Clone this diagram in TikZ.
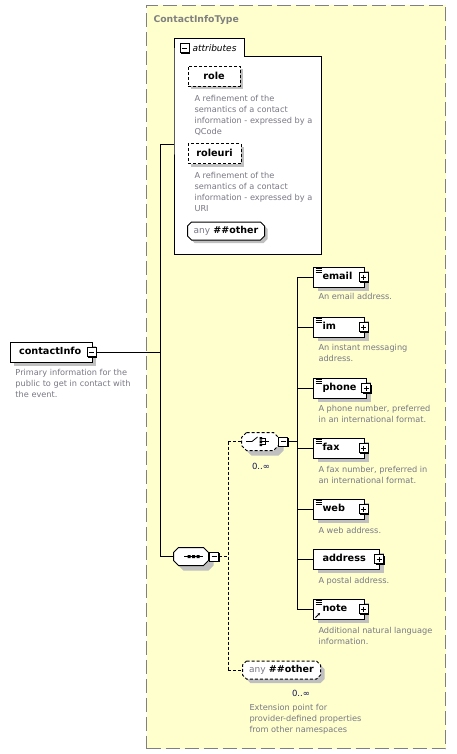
\documentclass[tikz,border=0pt]{standalone}
\usepackage{fontspec}
\setmainfont{DejaVu Sans}
\usetikzlibrary{shadows,arrows.meta}
\definecolor{bgyellow}{RGB}{255,255,206}
\definecolor{shadowgray}{RGB}{192,192,192}
\definecolor{desccol}{RGB}{120,120,132}
\definecolor{framecol}{RGB}{128,128,128}
\definecolor{occcol}{RGB}{20,20,90}
\newcommand{\xsdoct}[3][]{\path[#1] ([xshift=#3]#2.north west) -- ([xshift=-#3]#2.north east) -- ([yshift=-#3]#2.north east) -- ([yshift=#3]#2.south east) -- ([xshift=-#3]#2.south east) -- ([xshift=#3]#2.south west) -- ([yshift=#3]#2.south west) -- ([yshift=-#3]#2.north west) -- cycle;}
\begin{document}
\begin{tikzpicture}[x=1pt,y=-1pt,line width=1pt,
 desc/.style={anchor=north west, align=left, inner sep=0pt, text=desccol, font=\fontsize{8.2}{11}\selectfont},
 namefont/.style={font=\fontsize{9.7}{11}\selectfont\bfseries},
 elem/.style={namefont, draw, fill=white, anchor=west, minimum height=20, inner sep=0pt, align=left, text height=7.2pt, text depth=2pt, general shadow={fill=shadowgray, shadow xshift=4pt, shadow yshift=-4pt}},
 attrbox/.style={namefont, draw, dash pattern=on 3pt off 2pt, fill=white, minimum height=20, inner sep=0pt, text height=7.2pt, text depth=2pt, general shadow={fill=shadowgray, shadow xshift=3pt, shadow yshift=-3pt}},
 signbox/.style={draw, fill=white, minimum width=9, minimum height=9, inner sep=0pt, general shadow={fill=black, shadow xshift=1pt, shadow yshift=-1pt}},
 minusbox/.style={signbox, path picture={\draw[line width=1pt] ([xshift=2pt]path picture bounding box.west) -- ([xshift=-2pt]path picture bounding box.east);}},
 plusbox/.style={signbox, path picture={\draw[line width=1pt] ([xshift=2pt]path picture bounding box.west) -- ([xshift=-2pt]path picture bounding box.east); \draw[line width=1pt] ([yshift=-2pt]path picture bounding box.north) -- ([yshift=2pt]path picture bounding box.south);}},
 icon/.style={path picture={\foreach \d in {1.5,3.5,5.5}{\draw[line width=0.7pt] ([xshift=2pt,yshift=-\d pt]path picture bounding box.north west) -- ++(6,0);}}},
 octbox/.style={minimum height=17, inner sep=0pt},
 dashline/.style={dash pattern=on 3pt off 2pt},
 occ/.style={inner sep=0pt, text=occcol, font=\fontsize{8.5}{10}\selectfont},
 anytext/.style={inner sep=0pt}
]
\useasboundingbox (0,0) rectangle (456,754);

% container
\node[draw=framecol, fill=bgyellow, dash pattern=on 14pt off 5pt, minimum width=299, minimum height=743, anchor=north west, inner sep=0pt] (ctype) at (146,5) {};
\node[anchor=base west, inner sep=0pt, text=framecol, font=\fontsize{9.3}{11}\selectfont\bfseries] (ctlbl) at (153,23) {ContactInfoType};

% attributes group
\path node[minimum width=146, minimum height=196, anchor=north west, inner sep=0pt] (attr) at (174,57) {};
\path node[minimum width=69, minimum height=17, anchor=south west, inner sep=0pt] (attrtab) at (174,57) {};
\draw[fill=white] (attrtab.south west) |- (attrtab.north east) |- (attr.north east) |- (attr.south west) -- cycle;
\node[minusbox] (attrm) at (184.5,48.5) {};
\node[anchor=west, inner sep=0pt, font=\fontsize{9}{11}\selectfont\itshape] (attrlbl) at (192,48.5) {attributes};

\node[attrbox, minimum width=52] (role) at (214,76.5) {role};
\node[desc] (roled) at (194,95) {A refinement of the\\semantics of a contact\\information - expressed by a\\QCode};
\node[attrbox, minimum width=53] (roleuri) at (214.5,154) {roleuri};
\node[desc] (roleurid) at (194,172) {A refinement of the\\semantics of a contact\\information - expressed by a\\URI};

\path node[octbox, minimum width=76] (anyA) at (226,231) {};
\xsdoct[draw, fill=white, general shadow={fill=shadowgray, shadow xshift=3pt, shadow yshift=-3pt}]{anyA}{4pt}
\node[anytext] (anyAt) at (anyA.center) {{\fontsize{9}{11}\selectfont\color{desccol}any} {\fontsize{9.5}{11}\selectfont\bfseries\#\#other}};

% contactInfo
\node[elem, minimum width=82, text width=64, anchor=center] (ci) at (51,352) {contactInfo};
\node[minusbox] (cim) at (91.5,352) {};
\node[desc] (cid) at (15,369) {Primary information for the\\public to get in contact with\\the event.};

% sequence
\path node[octbox, minimum width=34] (seq) at (191,556.5) {};
\xsdoct[draw, fill=white, general shadow={fill=shadowgray, shadow xshift=5pt, shadow yshift=-5pt}]{seq}{5pt}
\draw[line width=0.8pt] (184,556.5) -- (203,556.5);
\fill (187.5,555) rectangle (190.5,558) (192,555) rectangle (195,558) (196.5,555) rectangle (199.5,558);
\node[minusbox] (seqm) at (214,556.5) {};

% choice
\path node[octbox, minimum width=36] (choice) at (260,441.5) {};
\xsdoct[draw, fill=white, dashline, general shadow={fill=shadowgray, shadow xshift=5pt, shadow yshift=-5pt}]{choice}{5pt}
\draw[line width=0.8pt] (246,441.5) -- (252,441.5) -- (257.5,437);
\fill (259.5,437) rectangle (262,439.5) (259.5,440.3) rectangle (262,442.8) (259.5,443.6) rectangle (262,446.1);
\draw[line width=0.8pt] (262,438.2) -| (265,444.8) -- (262,444.8);
\draw[line width=0.8pt] (262,441.5) -- (269,441.5);
\node[minusbox] (chm) at (283,441.5) {};
\node[occ] (chocc) at (261,466) {0..∞};

% elements
\node[elem, minimum width=51, text width=33, icon] (email) at (313,277) {email};
\node[plusbox] (emailp) at ([xshift=-1.5pt]email.east) {};
\node[desc] (emaild) at (318,293) {An email address.};

\node[elem, minimum width=51, text width=33, icon] (im) at (313,327) {im};
\node[plusbox] (imp) at ([xshift=-1.5pt]im.east) {};
\node[desc] (imd) at (318,344) {An instant messaging\\address.};

\node[elem, minimum width=53, text width=35, icon] (phone) at (313,388) {phone};
\node[plusbox] (phonep) at ([xshift=-1pt]phone.east) {};
\node[desc] (phoned) at (318,405) {A phone number, preferred\\in an international format.};

\node[elem, minimum width=51, text width=33, icon] (fax) at (313,448) {fax};
\node[plusbox] (faxp) at ([xshift=-1.5pt]fax.east) {};
\node[desc] (faxd) at (318,466) {A fax number, preferred in\\an international format.};

\node[elem, minimum width=51, text width=33, icon] (web) at (313,509) {web};
\node[plusbox] (webp) at ([xshift=-1.5pt]web.east) {};
\node[desc] (webd) at (318,527) {A web address.};

\node[elem, minimum width=66, text width=48] (address) at (313,559) {address};
\node[plusbox] (addressp) at ([xshift=-1pt]address.east) {};
\node[desc] (addressd) at (318,577) {A postal address.};

\node[elem, minimum width=51, text width=33, icon] (note) at (313,609) {note};
\node[plusbox] (notep) at ([xshift=-1.5pt]note.east) {};
\draw[line width=0.8pt, -{Stealth[length=2.5pt,width=2.5pt]}] ([xshift=2.5pt,yshift=2pt]note.south west) -- ++(4.5,-4.5);
\node[desc] (noted) at (318,627) {Additional natural language\\information.};

% any (extension)
\path node[octbox, minimum width=77] (anyB) at (281.5,670) {};
\xsdoct[draw, fill=white, dashline, general shadow={fill=shadowgray, shadow xshift=4pt, shadow yshift=-4pt}]{anyB}{4pt}
\node[anytext] (anyBt) at (anyB.center) {{\fontsize{9}{11}\selectfont\color{desccol}any} {\fontsize{9.5}{11}\selectfont\bfseries\#\#other}};
\node[occ] (anyocc) at (301,693) {0..∞};
\node[desc] (anyd) at (249,704) {Extension point for\\provider-defined properties\\from other namespaces};

% connectors
\coordinate (tj) at (160,352);
\coordinate (aj) at (160,145);
\draw (cim.east) -- (tj);
\draw (aj) -- (aj -| attr.west);
\draw (aj) -- (aj |- seq.west) -- (seq.west);

\coordinate (dj) at (228,556.5);
\draw[dashline] (seqm.east) -- (dj);
\draw[dashline] (dj |- choice.west) -- (dj |- anyB.west);
\draw[dashline] (dj |- choice.west) -- (choice.west);
\draw[dashline] (dj |- anyB.west) -- (anyB.west);

\coordinate (cj) at (297,441.5);
\draw (chm.east) -- (cj);
\draw (cj |- email.west) -- (cj |- note.west);
\foreach \e in {email,im,phone,fax,web,address,note}{\draw (cj |- \e.west) -- (\e.west);}
\end{tikzpicture}
\end{document}
